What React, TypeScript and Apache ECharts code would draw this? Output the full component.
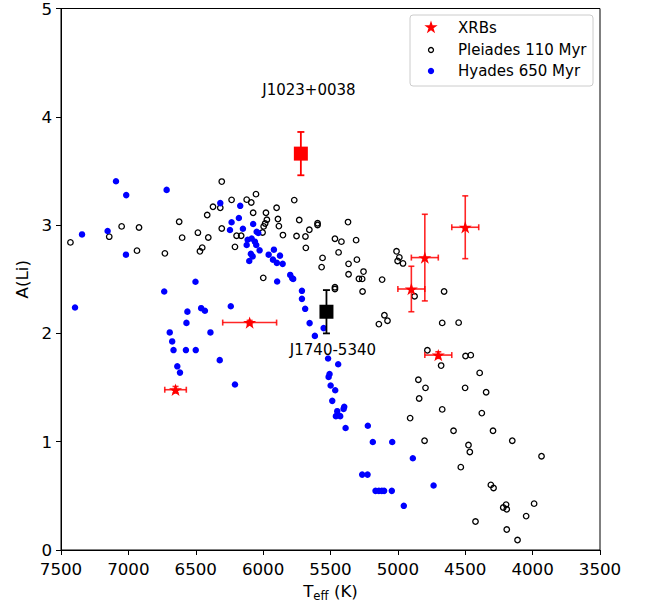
import React, { useEffect, useRef } from "react";
import * as echarts from "echarts";

// Pleiades 110 Myr (Teff K, A(Li))
const pleiadesT = [7430, 7050, 6921, 7142, 6936, 6729, 6623, 6601, 6484, 6407, 6452, 6469, 6415, 6372, 6318, 6307, 6234, 6122, 6088, 6053, 6074, 6307, 6197, 6163, 6209, 5900, 5769, 5979, 5972, 5985, 5996, 5890, 5883, 6004, 5853, 5752, 5686, 5657, 5596, 5596, 5732, 5370, 5467, 5419, 5310, 5683, 5440, 5559, 5566, 5366, 5304, 5255, 5289, 5265, 5366, 5262, 5999, 5467, 5467, 5117, 5010, 4989, 5002, 4962, 4876, 4657, 5100, 5077, 5141, 4671, 4549, 4781, 4679, 4498, 4459, 4393, 4848, 4795, 4501, 4345, 4842, 4671, 4377, 4909, 4587, 4294, 4802, 4476, 4466, 4151, 3934, 4533, 4310, 4290, 4197, 4218, 4192, 3989, 4048, 4424, 4192, 4112];
const pleiadesA = [2.84, 2.988, 2.978, 2.893, 2.764, 2.739, 3.031, 2.884, 2.93, 2.886, 2.792, 2.758, 3.093, 3.169, 3.16, 3.402, 3.233, 3.235, 3.209, 3.286, 3.114, 2.969, 2.902, 2.902, 2.799, 3.16, 3.231, 3.114, 3.049, 3.015, 2.988, 3.056, 2.991, 2.932, 2.908, 2.899, 2.895, 2.957, 3.017, 3.001, 3.047, 3.028, 2.874, 2.847, 2.861, 2.79, 2.748, 2.697, 2.612, 2.642, 2.681, 2.571, 2.504, 2.503, 2.546, 2.387, 2.513, 2.426, 2.41, 2.497, 2.758, 2.702, 2.669, 2.646, 2.343, 2.387, 2.168, 2.117, 2.086, 2.097, 2.099, 1.844, 1.703, 1.791, 1.799, 1.635, 1.572, 1.497, 1.497, 1.457, 1.399, 1.298, 1.264, 1.218, 1.101, 1.101, 1.009, 0.969, 0.905, 1.009, 0.866, 0.765, 0.601, 0.573, 0.419, 0.392, 0.376, 0.428, 0.313, 0.263, 0.189, 0.092];

// Hyades 650 Myr
const hyadesT = [7092, 7016, 6716, 7344, 7154, 7018, 6502, 6734, 7396, 6460, 6432, 6562, 6240, 6569, 6391, 6693, 6675, 6665, 6573, 6500, 6322, 6637, 6617, 6209, 6318, 6170, 6180, 6234, 6074, 6150, 6246, 6048, 6036, 6115, 6085, 6061, 6122, 6051, 6026, 5920, 6091, 6078, 5959, 5875, 6103, 5927, 5898, 5855, 5799, 5784, 5777, 5896, 5712, 5712, 5688, 5655, 5551, 5616, 5518, 5443, 5507, 5514, 5499, 5465, 5487, 5398, 5403, 5450, 5460, 5428, 5388, 5223, 5186, 5042, 4889, 5265, 5225, 5166, 5141, 5119, 5102, 5045, 4956, 4735];
const hyadesA = [3.405, 3.277, 3.325, 2.914, 2.945, 2.727, 2.477, 2.387, 2.239, 2.233, 2.209, 2.201, 2.251, 2.097, 2.009, 2.009, 1.926, 1.846, 1.846, 1.846, 1.753, 1.696, 1.638, 1.528, 3.203, 3.178, 3.065, 3.026, 3.01, 2.966, 2.955, 2.939, 2.927, 2.865, 2.876, 2.847, 2.816, 2.816, 2.767, 2.773, 2.734, 2.711, 2.727, 2.718, 2.669, 2.681, 2.651, 2.642, 2.54, 2.509, 2.503, 2.479, 2.393, 2.319, 2.227, 2.095, 2.049, 1.977, 1.768, 1.715, 1.625, 1.598, 1.519, 1.475, 1.377, 1.322, 1.303, 1.282, 1.236, 1.236, 1.126, 1.147, 0.997, 0.997, 0.847, 0.696, 0.696, 0.546, 0.546, 0.546, 0.546, 0.546, 0.408, 0.596];

// XRBs
const xrbT = [6650, 6100, 4900, 4800, 4500, 4700];
const xrbA = [1.48, 2.1, 2.41, 2.7, 2.98, 1.8];
const xrbTErr = [80, 200, 100, 100, 100, 100];
const xrbAErr = [0.03, 0.02, 0.21, 0.4, 0.29, 0.03];

// Named systems (squares)
const namedNames = ["J1023+0038", "J1740-5340"];
const namedT = [5720, 5530];
const namedA = [3.66, 2.2];
const namedAErr = [0.2, 0.2];
const namedLabelT = [5660, 5482];
const namedLabelA = [4.245, 1.843];

const xTicks = [7500, 7000, 6500, 6000, 5500, 5000, 4500, 4000, 3500];
const yTicks = [0, 1, 2, 3, 4, 5];

const FONT = "DejaVu Sans";
const STAR =
  "path://M0,-1L0.2245,-0.309L0.951,-0.309L0.363,0.118L0.588,0.809L0,0.382L-0.588,0.809L-0.363,0.118L-0.951,-0.309L-0.2245,-0.309Z";

function starPoints(cx: number, cy: number, r: number) {
  const pts: number[][] = [];
  for (let k = 0; k < 10; k++) {
    const ang = ((-90 + k * 36) * Math.PI) / 180;
    const rr = k % 2 === 0 ? r : r * 0.382;
    pts.push([cx + rr * Math.cos(ang), cy + rr * Math.sin(ang)]);
  }
  return pts;
}

export default function App() {
  const ref = useRef<HTMLDivElement>(null);
  useEffect(() => {
    if (!ref.current) return;
    const chart = echarts.init(ref.current, undefined, { renderer: "svg" });

    const errRender = (color: string, lw: number, cap: number, opacity: number) =>
      (params: any, api: any) => {
        const x = api.value(0);
        const y = api.value(1);
        const xe = api.value(2);
        const ye = api.value(3);
        const children: any[] = [];
        const style = { stroke: color, lineWidth: lw, opacity };
        if (xe > 0) {
          const l = api.coord([x - xe, y]);
          const r = api.coord([x + xe, y]);
          children.push({ type: "line", shape: { x1: l[0], y1: l[1], x2: r[0], y2: r[1] }, style });
          children.push({ type: "line", shape: { x1: l[0], y1: l[1] - cap, x2: l[0], y2: l[1] + cap }, style });
          children.push({ type: "line", shape: { x1: r[0], y1: r[1] - cap, x2: r[0], y2: r[1] + cap }, style });
        }
        if (ye > 0) {
          const t = api.coord([x, y + ye]);
          const b = api.coord([x, y - ye]);
          children.push({ type: "line", shape: { x1: t[0], y1: t[1], x2: b[0], y2: b[1] }, style });
          children.push({ type: "line", shape: { x1: t[0] - cap, y1: t[1], x2: t[0] + cap, y2: t[1] }, style });
          children.push({ type: "line", shape: { x1: b[0] - cap, y1: b[1], x2: b[0] + cap, y2: b[1] }, style });
        }
        return { type: "group", children };
      };

    const legendX = 431;
    const option: any = {
      animation: false,
      grid: { left: 61, right: 49, top: 7, bottom: 59, show: true, borderColor: "#000", borderWidth: 1, backgroundColor: "transparent" },
      xAxis: {
        type: "value",
        inverse: true,
        min: 3500,
        max: 7500,
        interval: 500,
        name: "{n|T}{s|eff}{n| (K)}",
        nameLocation: "middle",
        nameGap: 30,
        nameTextStyle: {
          color: "#000",
          fontFamily: FONT,
          rich: {
            n: { fontSize: 16.7, fontFamily: FONT, color: "#000", lineHeight: 20 },
            s: { fontSize: 11.7, fontFamily: FONT, color: "#000", padding: [10, 0, 0, 0], verticalAlign: "bottom" },
          },
        },
        axisLine: { lineStyle: { color: "#000", width: 1 } },
        axisTick: { show: true, length: 5, lineStyle: { color: "#000", width: 1 } },
        axisLabel: { color: "#000", fontSize: 16.7, lineHeight: 16, fontFamily: FONT, margin: 11, formatter: (v: number) => (xTicks.includes(v) ? String(v) : "") },
        splitLine: { show: false },
      },
      yAxis: {
        type: "value",
        min: 0,
        max: 5,
        interval: 1,
        name: "A(Li)",
        nameLocation: "middle",
        nameGap: 28,
        nameRotate: 90,
        nameTextStyle: { color: "#000", fontSize: 16.7, fontFamily: FONT },
        axisLine: { show: true, lineStyle: { color: "#000", width: 1 } },
        axisTick: { show: true, length: 5, lineStyle: { color: "#000", width: 1 } },
        axisLabel: { color: "#000", fontSize: 16.7, lineHeight: 15, fontFamily: FONT, margin: 9, formatter: (v: number) => (yTicks.includes(v) ? String(v) : "") },
        splitLine: { show: false },
      },
      series: [
        {
          name: "Pleiades 110 Myr",
          type: "scatter",
          data: pleiadesT.map((t, i) => [t, pleiadesA[i]]),
          symbol: "circle",
          symbolSize: 5.5,
          itemStyle: { color: "rgba(255,255,255,0)", borderColor: "#000", borderWidth: 1.3, opacity: 1 },
          z: 2,
        },
        {
          name: "Hyades 650 Myr",
          type: "scatter",
          data: hyadesT.map((t, i) => [t, hyadesA[i]]),
          symbol: "circle",
          symbolSize: 6.5,
          itemStyle: { color: "#0000ff", opacity: 1 },
          z: 3,
        },
        {
          name: "xrbErr",
          type: "custom",
          data: xrbT.map((t, i) => [t, xrbA[i], xrbTErr[i], xrbAErr[i]]),
          encode: { x: 0, y: 1 },
          renderItem: errRender("#ff0000", 1.6, 3, 0.85),
          z: 4,
        },
        {
          name: "XRBs",
          type: "scatter",
          data: xrbT.map((t, i) => [t, xrbA[i]]),
          symbol: STAR,
          symbolKeepAspect: true,
          symbolSize: 13,
          itemStyle: { color: "#ff0000", opacity: 1 },
          z: 5,
        },
        {
          name: "namedErr",
          type: "custom",
          data: namedT.map((t, i) => [t, namedA[i], 0, namedAErr[i], i]),
          encode: { x: 0, y: 1 },
          renderItem: (params: any, api: any) => {
            const color = api.value(4) === 0 ? "#ff0000" : "#000000";
            return errRender(color, 1.8, 3.5, 1)(params, api);
          },
          z: 4,
        },
        {
          name: "named",
          type: "scatter",
          data: namedT.map((t, i) => ({ value: [t, namedA[i]], itemStyle: { color: i === 0 ? "#ff0000" : "#000000", opacity: 1 } })),
          symbol: "rect",
          symbolSize: 14,
          itemStyle: { opacity: 1 },
          z: 5,
        },
        {
          name: "labels",
          type: "scatter",
          data: namedNames.map((n, i) => [namedLabelT[i], namedLabelA[i], n]),
          symbolSize: 0.1,
          itemStyle: { color: "rgba(0,0,0,0)", opacity: 1 },
          label: {
            show: true,
            position: "inside",
            formatter: (p: any) => p.value[2],
            color: "#000000",
            opacity: 1,
            fontSize: 15,
            fontFamily: FONT,
          },
          z: 6,
        },
      ],
      graphic: [
        {
          type: "rect",
          shape: { x: 410, y: 15, width: 183, height: 71, r: 3 },
          style: { fill: "rgba(255,255,255,0.8)", stroke: "#cccccc", lineWidth: 1 },
          z: 100,
        },
        {
          type: "polygon",
          shape: { points: starPoints(legendX, 27.5, 7) },
          style: { fill: "#ff0000" },
          z: 101,
        },
        {
          type: "circle",
          shape: { cx: legendX, cy: 50, r: 2.5 },
          style: { fill: "none", stroke: "#000", lineWidth: 1.3 },
          z: 101,
        },
        {
          type: "circle",
          shape: { cx: legendX, cy: 71, r: 3.2 },
          style: { fill: "#0000ff" },
          z: 101,
        },
        { type: "text", x: 458, y: 27.5, style: { text: "XRBs", fill: "#000", font: `15px '${FONT}'`, verticalAlign: "middle" }, z: 101 },
        { type: "text", x: 458, y: 50, style: { text: "Pleiades 110 Myr", fill: "#000", font: `15px '${FONT}'`, verticalAlign: "middle" }, z: 101 },
        { type: "text", x: 458, y: 71, style: { text: "Hyades 650 Myr", fill: "#000", font: `15px '${FONT}'`, verticalAlign: "middle" }, z: 101 },
      ],
    };
    chart.setOption(option);
    return () => chart.dispose();
  }, []);

  return <div ref={ref} style={{ position: "fixed", left: 0, top: 0, width: 649, height: 609, background: "#fff" }} />;
}
